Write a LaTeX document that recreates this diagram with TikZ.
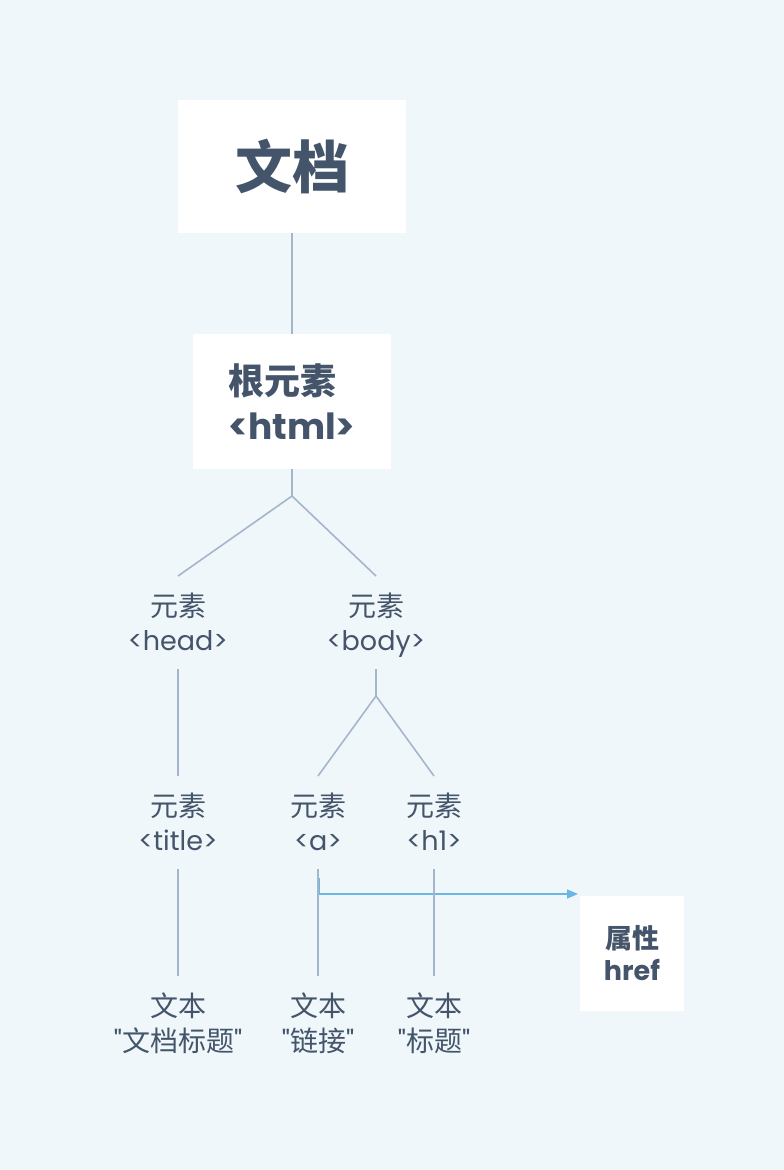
\documentclass[tikz,border=0pt]{standalone}
\usepackage{fontspec}
\usetikzlibrary{arrows.meta}
\newfontfamily\cjk{Noto Sans CJK SC}
\newfontfamily\lat{Poppins}[Ligatures=TeXOff]
\definecolor{bgc}{HTML}{EFF7FA}
\definecolor{txt}{HTML}{44546A}
\definecolor{edge}{HTML}{A5B6CA}
\definecolor{link}{HTML}{6CB6E6}
\tikzset{
  box/.style={fill=white, draw=none, text=txt, inner sep=0pt},
  lbl/.style={anchor=base, text=txt, inner sep=0pt, font=\fontsize{27}{30}\selectfont},
  clbl/.style={anchor=base, text=txt, inner sep=0pt, font=\fontsize{28}{30}\selectfont},
  conn/.style={draw=edge, line width=1.6pt},
  attrarrow/.style={draw=link, line width=1.6pt, -{Triangle[length=11pt,width=9pt]}}
}
\begin{document}
\begin{tikzpicture}[x=1pt,y=-1pt]
\fill[bgc] (0,0) rectangle (784,1170);
\useasboundingbox (0,0) rectangle (784,1170);

% boxes
\node[box, minimum width=228, minimum height=133, font=\fontsize{57}{60}\selectfont\bfseries] (doc) at (292,166.5) {\cjk 文档};
\node[box, minimum width=198, minimum height=135, align=left, font=\fontsize{36}{45}\selectfont\bfseries] (html) at (292,401.5) {{\cjk 根元素}\\{\lat <html>}};
\node[box, minimum width=104, minimum height=115, align=center, font=\fontsize{27}{32}\selectfont\bfseries] (attr) at (632,953.5) {{\cjk 属性}\\{\lat href}};

% labels
\node[clbl] (headA) at (178,616) {\cjk 元素};
\node[lbl] (headB) at (178,650) {\lat <head>};
\node[clbl] (bodyA) at (376,616) {\cjk 元素};
\node[lbl] (bodyB) at (376,650) {\lat <body>};
\node[clbl] (titleA) at (178,816) {\cjk 元素};
\node[lbl] (titleB) at (178,850) {\lat <title>};
\node[clbl] (aA) at (318,816) {\cjk 元素};
\node[lbl] (aB) at (318,850) {\lat <a>};
\node[clbl] (hA) at (434,816) {\cjk 元素};
\node[lbl] (hB) at (434,850) {\lat <h1>};
\node[clbl] (t1A) at (178,1016) {\cjk 文本};
\node[clbl] (t1B) at (178,1051) {{\lat "}{\cjk 文档标题}{\lat "}};
\node[clbl] (t2A) at (318,1016) {\cjk 文本};
\node[clbl] (t2B) at (318,1051) {{\lat "}{\cjk 链接}{\lat "}};
\node[clbl] (t3A) at (434,1016) {\cjk 文本};
\node[clbl] (t3B) at (434,1051) {{\lat "}{\cjk 标题}{\lat "}};

% connector end points
\coordinate (b1) at (292,496);
\coordinate (headtop) at (178,576);
\coordinate (bodytop) at (376,576);
\coordinate (headbot) at (178,669);
\coordinate (bodybot) at (376,669);
\coordinate (b2) at (376,696);
\coordinate (titletop) at (178,776);
\coordinate (atop) at (318,776);
\coordinate (htop) at (434,776);
\coordinate (titlebot) at (178,869);
\coordinate (abot) at (318,869);
\coordinate (hbot) at (434,869);
\coordinate (t1top) at (178,976);
\coordinate (t2top) at (318,976);
\coordinate (t3top) at (434,976);
\coordinate (linkstart) at (318.8,878);
\coordinate (linkend) at (578,894);

% blue attribute arrow
\draw[attrarrow] (linkstart) |- (linkend);

% tree connectors
\draw[conn] (doc.south) -- (html.north);
\draw[conn] (html.south) -- (b1);
\draw[conn] (b1) -- (headtop);
\draw[conn] (b1) -- (bodytop);
\draw[conn] (headbot) -- (titletop);
\draw[conn] (bodybot) -- (b2);
\draw[conn] (b2) -- (atop);
\draw[conn] (b2) -- (htop);
\draw[conn] (titlebot) -- (t1top);
\draw[conn] (abot) -- (t2top);
\draw[conn] (hbot) -- (t3top);
\end{tikzpicture}
\end{document}
